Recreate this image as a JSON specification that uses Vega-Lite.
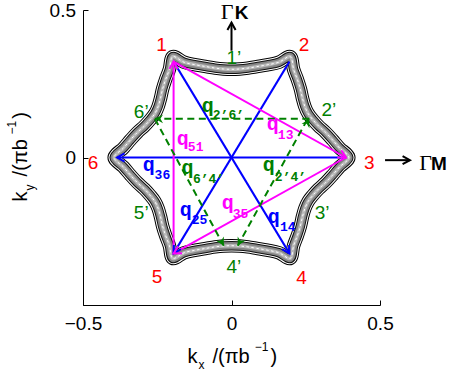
{
  "$schema": "https://vega.github.io/schema/vega-lite/v6.json",
  "width": 297,
  "height": 295,
  "autosize": {"type": "none"},
  "padding": {"left": 83, "top": 10, "right": 73, "bottom": 74},
  "background": "white",
  "config": {"view": {"stroke": null}},
  "datasets": {
    "curve": [
      {"i": 0, "x": 0.395, "y": 0}, {"i": 1, "x": 0.364, "y": 0.032}, {"i": 2, "x": 0.340, "y": 0.060},
      {"i": 3, "x": 0.317, "y": 0.085}, {"i": 4, "x": 0.293, "y": 0.107}, {"i": 5, "x": 0.274, "y": 0.128},
      {"i": 6, "x": 0.258, "y": 0.149}, {"i": 7, "x": 0.247, "y": 0.173}, {"i": 8, "x": 0.239, "y": 0.201},
      {"i": 9, "x": 0.232, "y": 0.232}, {"i": 10, "x": 0.222, "y": 0.264}, {"i": 11, "x": 0.209, "y": 0.299},
      {"i": 12, "x": 0.198, "y": 0.342}, {"i": 13, "x": 0.160, "y": 0.323}, {"i": 14, "x": 0.120, "y": 0.314},
      {"i": 15, "x": 0.085, "y": 0.308}, {"i": 16, "x": 0.055, "y": 0.303}, {"i": 17, "x": 0.027, "y": 0.300},
      {"i": 18, "x": 0, "y": 0.299}, {"i": 19, "x": -0.027, "y": 0.300}, {"i": 20, "x": -0.055, "y": 0.303},
      {"i": 21, "x": -0.085, "y": 0.308}, {"i": 22, "x": -0.120, "y": 0.314}, {"i": 23, "x": -0.160, "y": 0.323},
      {"i": 24, "x": -0.198, "y": 0.342}, {"i": 25, "x": -0.209, "y": 0.299}, {"i": 26, "x": -0.222, "y": 0.264},
      {"i": 27, "x": -0.232, "y": 0.232}, {"i": 28, "x": -0.239, "y": 0.201}, {"i": 29, "x": -0.247, "y": 0.173},
      {"i": 30, "x": -0.258, "y": 0.149}, {"i": 31, "x": -0.274, "y": 0.128}, {"i": 32, "x": -0.293, "y": 0.107},
      {"i": 33, "x": -0.317, "y": 0.085}, {"i": 34, "x": -0.340, "y": 0.060}, {"i": 35, "x": -0.364, "y": 0.032},
      {"i": 36, "x": -0.395, "y": 0}, {"i": 37, "x": -0.364, "y": -0.032}, {"i": 38, "x": -0.340, "y": -0.060},
      {"i": 39, "x": -0.317, "y": -0.085}, {"i": 40, "x": -0.293, "y": -0.107}, {"i": 41, "x": -0.274, "y": -0.128},
      {"i": 42, "x": -0.258, "y": -0.149}, {"i": 43, "x": -0.247, "y": -0.173}, {"i": 44, "x": -0.239, "y": -0.201},
      {"i": 45, "x": -0.232, "y": -0.232}, {"i": 46, "x": -0.222, "y": -0.264}, {"i": 47, "x": -0.209, "y": -0.299},
      {"i": 48, "x": -0.198, "y": -0.342}, {"i": 49, "x": -0.160, "y": -0.323}, {"i": 50, "x": -0.120, "y": -0.314},
      {"i": 51, "x": -0.085, "y": -0.308}, {"i": 52, "x": -0.055, "y": -0.303}, {"i": 53, "x": -0.027, "y": -0.300},
      {"i": 54, "x": 0, "y": -0.299}, {"i": 55, "x": 0.027, "y": -0.300}, {"i": 56, "x": 0.055, "y": -0.303},
      {"i": 57, "x": 0.085, "y": -0.308}, {"i": 58, "x": 0.120, "y": -0.314}, {"i": 59, "x": 0.160, "y": -0.323},
      {"i": 60, "x": 0.198, "y": -0.342}, {"i": 61, "x": 0.209, "y": -0.299}, {"i": 62, "x": 0.222, "y": -0.264},
      {"i": 63, "x": 0.232, "y": -0.232}, {"i": 64, "x": 0.239, "y": -0.201}, {"i": 65, "x": 0.247, "y": -0.173},
      {"i": 66, "x": 0.258, "y": -0.149}, {"i": 67, "x": 0.274, "y": -0.128}, {"i": 68, "x": 0.293, "y": -0.107},
      {"i": 69, "x": 0.317, "y": -0.085}, {"i": 70, "x": 0.340, "y": -0.060}, {"i": 71, "x": 0.364, "y": -0.032}
    ],
    "segs": [
      {"x": 0.385, "y": 0, "x2": -0.385, "y2": 0, "kind": "opposite"},
      {"x": -0.195, "y": 0.325, "x2": 0.195, "y2": -0.325, "kind": "opposite"},
      {"x": 0.195, "y": 0.325, "x2": -0.195, "y2": -0.325, "kind": "opposite"},
      {"x": -0.195, "y": -0.325, "x2": -0.195, "y2": 0.325, "kind": "second"},
      {"x": -0.195, "y": 0.325, "x2": 0.385, "y2": 0, "kind": "second"},
      {"x": 0.385, "y": 0, "x2": -0.195, "y2": -0.325, "kind": "second"},
      {"x": 0, "y": 0.362, "x2": 0, "y2": 0.457, "kind": "axis"},
      {"x": 0.517, "y": -0.009, "x2": 0.601, "y2": -0.009, "kind": "axis"}
    ],
    "dashed": [
      {"x": 0.262, "y": 0.131, "x2": -0.258, "y2": 0.131, "kind": "prime"},
      {"x": -0.258, "y": 0.131, "x2": -0.026, "y2": -0.299, "kind": "prime"},
      {"x": 0.255, "y": 0.128, "x2": 0.021, "y2": -0.299, "kind": "prime"}
    ],
    "heads": [
      {"x": -0.385, "y": 0, "heading": 270, "kind": "opposite"},
      {"x": 0.195, "y": -0.325, "heading": 149, "kind": "opposite"},
      {"x": -0.195, "y": -0.325, "heading": 211, "kind": "opposite"},
      {"x": -0.195, "y": 0.325, "heading": 0, "kind": "second"},
      {"x": 0.385, "y": 0, "heading": 119.3, "kind": "second"},
      {"x": -0.195, "y": -0.325, "heading": 240.7, "kind": "second"},
      {"x": 0, "y": 0.457, "heading": 0, "kind": "axis"},
      {"x": 0.601, "y": -0.009, "heading": 90, "kind": "axis"},
      {"x": -0.258, "y": 0.131, "heading": 270, "kind": "prime"},
      {"x": 0.262, "y": 0.131, "heading": 28, "kind": "prime"},
      {"x": -0.026, "y": -0.299, "heading": 151.6, "kind": "prime"},
      {"x": 0.021, "y": -0.299, "heading": 208.2, "kind": "prime"}
    ],
    "vertices": [
      {"x": -0.236, "y": 0.362, "t": "1"}, {"x": 0.244, "y": 0.362, "t": "2"},
      {"x": 0.464, "y": -0.038, "t": "3"}, {"x": 0.236, "y": -0.428, "t": "4"},
      {"x": -0.251, "y": -0.425, "t": "5"}, {"x": -0.466, "y": -0.038, "t": "6"}
    ],
    "primes": [
      {"x": 0.008, "y": 0.318, "t": "1’"}, {"x": 0.328, "y": 0.141, "t": "2’"},
      {"x": 0.305, "y": -0.208, "t": "3’"}, {"x": 0.008, "y": -0.391, "t": "4’"},
      {"x": -0.304, "y": -0.210, "t": "5’"}, {"x": -0.304, "y": 0.134, "t": "6’"}
    ],
    "qmain": [
      {"x": -0.100, "y": 0.153, "kind": "prime"},
      {"x": 0.119, "y": 0.094, "kind": "second"},
      {"x": -0.184, "y": 0.043, "kind": "second"},
      {"x": -0.299, "y": -0.045, "kind": "opposite"},
      {"x": -0.168, "y": -0.055, "kind": "prime"},
      {"x": 0.105, "y": -0.045, "kind": "prime"},
      {"x": -0.174, "y": -0.198, "kind": "opposite"},
      {"x": -0.033, "y": -0.174, "kind": "second"},
      {"x": 0.122, "y": -0.221, "kind": "opposite"}
    ],
    "qsub": [
      {"x": -0.063, "y": 0.132, "t": "2’6’", "kind": "prime"},
      {"x": 0.156, "y": 0.063, "t": "13", "kind": "second"},
      {"x": -0.147, "y": 0.023, "t": "51", "kind": "second"},
      {"x": -0.259, "y": -0.072, "t": "36", "kind": "opposite"},
      {"x": -0.130, "y": -0.086, "t": "6’4’", "kind": "prime"},
      {"x": 0.146, "y": -0.079, "t": "2’4’", "kind": "prime"},
      {"x": -0.134, "y": -0.225, "t": "25", "kind": "opposite"},
      {"x": 0.004, "y": -0.204, "t": "35", "kind": "second"},
      {"x": 0.163, "y": -0.248, "t": "14", "kind": "opposite"}
    ],
    "gamma": [{"x": -0.036, "y": 0.470, "t": "Γ"}, {"x": 0.632, "y": -0.044, "t": "Γ"}],
    "dirs": [{"x": 0.011, "y": 0.470, "t": "K"}, {"x": 0.672, "y": -0.044, "t": "M"}],
    "xtitle": [{"x": -0.148, "y": -0.696, "t": "k"}, {"x": -0.064, "y": -0.696, "t": "/(πb"}, {"x": 0.131, "y": -0.696, "t": ")"}],
    "xtitleSmall": [{"x": -0.111, "y": -0.717, "t": "x"}, {"x": 0.078, "y": -0.655, "t": "−1"}],
    "ytitle": [{"x": -0.687, "y": -0.149, "t": "k"}, {"x": -0.687, "y": -0.064, "t": "/(πb"}, {"x": -0.687, "y": 0.131, "t": ")"}],
    "ytitleSmall": [{"x": -0.666, "y": -0.112, "t": "y"}, {"x": -0.727, "y": 0.078, "t": "−1"}]
  },
  "encoding": {
    "x": {
      "field": "x", "type": "quantitative",
      "scale": {"domain": [-0.5, 0.5], "nice": false, "zero": false},
      "axis": {
        "title": null, "values": [-0.5, 0, 0.5], "format": "~g", "grid": false,
        "domainColor": "#000", "tickColor": "#000", "tickSize": -5,
        "labelFont": "Liberation Sans", "labelFontSize": 19, "labelColor": "#000",
        "labelPadding": 14, "labelFlush": false, "labelOverlap": false
      }
    },
    "y": {
      "field": "y", "type": "quantitative",
      "scale": {"domain": [-0.5, 0.5], "nice": false, "zero": false},
      "axis": {
        "title": null, "values": [-0.5, 0, 0.5], "format": "~g", "grid": false,
        "domainColor": "#000", "tickColor": "#000", "tickSize": -5,
        "labelFont": "Liberation Sans", "labelFontSize": 19, "labelColor": "#000",
        "labelPadding": 12.5, "labelFlush": false, "labelOverlap": false,
        "labelExpr": "datum.value < -0.25 ? '' : datum.label"
      }
    }
  },
  "layer": [
    {"data": {"name": "curve"}, "mark": {"type": "line", "interpolate": "cardinal-closed", "stroke": "#000", "strokeWidth": 13.5, "strokeJoin": "round"}, "encoding": {"order": {"field": "i"}}},
    {"data": {"name": "curve"}, "mark": {"type": "line", "interpolate": "cardinal-closed", "stroke": "#fff", "strokeWidth": 11.5, "strokeJoin": "round"}, "encoding": {"order": {"field": "i"}}},
    {"data": {"name": "curve"}, "mark": {"type": "line", "interpolate": "cardinal-closed", "stroke": "#111", "strokeWidth": 9.5, "strokeJoin": "round"}, "encoding": {"order": {"field": "i"}}},
    {"data": {"name": "curve"}, "mark": {"type": "line", "interpolate": "cardinal-closed", "stroke": "#858585", "strokeWidth": 7.5, "strokeJoin": "round"}, "encoding": {"order": {"field": "i"}}},
    {"data": {"name": "curve"}, "mark": {"type": "line", "interpolate": "cardinal-closed", "stroke": "#b8b8b8", "strokeWidth": 3.5, "strokeJoin": "round"}, "encoding": {"order": {"field": "i"}}},
    {"data": {"name": "curve"}, "mark": {"type": "line", "interpolate": "cardinal-closed", "stroke": "#fff", "strokeWidth": 1, "strokeDash": [2.5, 2.5]}, "encoding": {"order": {"field": "i"}}},
    {
      "data": {"name": "segs"},
      "mark": {"type": "rule", "strokeWidth": 2},
      "encoding": {
        "x2": {"field": "x2"}, "y2": {"field": "y2"},
        "color": {"field": "kind", "type": "nominal", "scale": {"domain": ["opposite", "second", "prime", "axis"], "range": ["#0000ff", "#ff00ff", "#008000", "#000000"]}, "legend": null}
      }
    },
    {
      "data": {"name": "dashed"},
      "mark": {"type": "rule", "strokeWidth": 2, "strokeDash": [7, 4.5]},
      "encoding": {
        "x2": {"field": "x2"}, "y2": {"field": "y2"},
        "color": {"field": "kind", "type": "nominal", "legend": null}
      }
    },
    {
      "data": {"name": "heads"},
      "transform": [{"filter": "datum.kind != 'prime'"}],
      "mark": {"type": "point", "shape": "M-0.55,1L0,0L0.55,1", "filled": false, "strokeWidth": 2, "size": 220, "opacity": 1},
      "encoding": {
        "angle": {"field": "heading", "type": "quantitative", "scale": null},
        "color": {"field": "kind", "type": "nominal", "legend": null}
      }
    },
    {
      "data": {"name": "heads"},
      "transform": [{"filter": "datum.kind == 'prime'"}],
      "mark": {"type": "point", "shape": "M0,0L-0.6,1.1L0,0.75L0.6,1.1Z", "filled": true, "size": 220, "opacity": 1},
      "encoding": {
        "angle": {"field": "heading", "type": "quantitative", "scale": null},
        "color": {"field": "kind", "type": "nominal", "legend": null}
      }
    },
    {
      "data": {"name": "vertices"},
      "mark": {"type": "text", "font": "Liberation Sans", "fontSize": 19, "fill": "#ff0000", "align": "center", "baseline": "alphabetic"},
      "encoding": {"text": {"field": "t"}}
    },
    {
      "data": {"name": "primes"},
      "mark": {"type": "text", "font": "Liberation Sans", "fontSize": 19, "fill": "#008000", "align": "center", "baseline": "alphabetic"},
      "encoding": {"text": {"field": "t"}}
    },
    {
      "data": {"name": "qmain"},
      "mark": {"type": "text", "font": "Liberation Mono", "fontWeight": "bold", "fontSize": 20, "align": "left", "baseline": "alphabetic", "text": "q"},
      "encoding": {"color": {"field": "kind", "type": "nominal", "legend": null}}
    },
    {
      "data": {"name": "qsub"},
      "mark": {"type": "text", "font": "Liberation Mono", "fontWeight": "bold", "fontSize": 13, "align": "left", "baseline": "alphabetic"},
      "encoding": {"text": {"field": "t"}, "color": {"field": "kind", "type": "nominal", "legend": null}}
    },
    {
      "data": {"name": "gamma"},
      "mark": {"type": "text", "font": "Liberation Serif", "fontSize": 22, "fill": "#000", "align": "left", "baseline": "alphabetic"},
      "encoding": {"text": {"field": "t"}}
    },
    {
      "data": {"name": "dirs"},
      "mark": {"type": "text", "font": "Liberation Sans", "fontWeight": "bold", "fontSize": 19, "fill": "#000", "align": "left", "baseline": "alphabetic"},
      "encoding": {"text": {"field": "t"}}
    },
    {
      "data": {"name": "xtitle"},
      "mark": {"type": "text", "font": "Liberation Sans", "fontSize": 20, "fill": "#000", "align": "left", "baseline": "alphabetic"},
      "encoding": {"text": {"field": "t"}}
    },
    {
      "data": {"name": "xtitleSmall"},
      "mark": {"type": "text", "font": "Liberation Sans", "fontSize": 12, "fill": "#000", "align": "left", "baseline": "alphabetic"},
      "encoding": {"text": {"field": "t"}}
    },
    {
      "data": {"name": "ytitle"},
      "mark": {"type": "text", "font": "Liberation Sans", "fontSize": 20, "fill": "#000", "align": "left", "baseline": "alphabetic", "angle": 270},
      "encoding": {"text": {"field": "t"}}
    },
    {
      "data": {"name": "ytitleSmall"},
      "mark": {"type": "text", "font": "Liberation Sans", "fontSize": 12, "fill": "#000", "align": "left", "baseline": "alphabetic", "angle": 270},
      "encoding": {"text": {"field": "t"}}
    }
  ]
}
